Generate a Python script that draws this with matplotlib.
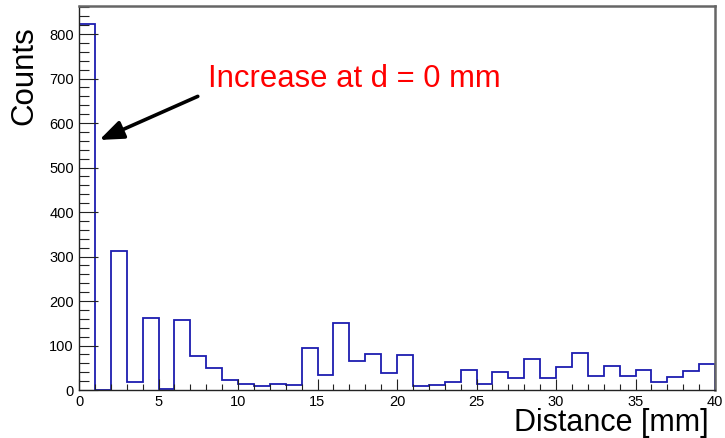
import numpy as np
import matplotlib
matplotlib.use("Agg")
import matplotlib.pyplot as plt
from matplotlib.ticker import MultipleLocator

plt.rcParams['font.family'] = ['Liberation Sans', 'DejaVu Sans']

# Histogram of distances, 1 mm bins from 0 to 40 mm
bin_edges = np.arange(0, 41, 1)
counts = [822, 0, 312, 17, 162, 2, 157, 76, 49, 22,
          14, 9, 13, 12, 94, 34, 151, 65, 80, 39,
          79, 10, 11, 19, 45, 13, 40, 28, 70, 27,
          51, 83, 32, 54, 31, 44, 18, 30, 42, 58]

x_label = "Distance [mm]"
y_label = "Counts"
note_text = "Increase at d = 0 mm"
note_xy = (8.09, 681)
arrow_tip = (1.28, 562)
arrow_tail = (7.47, 660)

fig = plt.figure(figsize=(7.25, 4.38), dpi=100)
ax = fig.add_axes([79 / 725, 1 - 390 / 438, 636 / 725, 384 / 438])

ax.stairs(counts, bin_edges, color='#1c1cb0', lw=1.3, baseline=0)

ax.set_xlim(0, 40)
ax.set_ylim(0, max(counts) * 1.05)

ax.xaxis.set_major_locator(MultipleLocator(5))
ax.xaxis.set_minor_locator(MultipleLocator(1))
ax.yaxis.set_major_locator(MultipleLocator(100))
ax.yaxis.set_minor_locator(MultipleLocator(20))

ax.tick_params(axis='x', which='major', direction='in', length=8, width=0.8,
               labelsize=10.5, pad=3.5, color='#222222')
ax.tick_params(axis='x', which='minor', direction='in', length=4, width=0.8,
               color='#222222')
ax.tick_params(axis='y', which='major', direction='in', length=14, width=0.8,
               labelsize=10.5, pad=3.6, color='#222222')
ax.tick_params(axis='y', which='minor', direction='in', length=7, width=0.8,
               color='#222222')

for side in ('left', 'bottom'):
    ax.spines[side].set_color('#222222')
    ax.spines[side].set_linewidth(1.0)
for side in ('top', 'right'):
    ax.spines[side].set_color('#666666')
    ax.spines[side].set_linewidth(1.8)

fig.text(709 / 725, 1 - 431 / 438, x_label, fontsize=22,
         ha='right', va='baseline')
fig.text(32 / 725, 1 - 125 / 438, y_label, fontsize=22.5, rotation=90,
         rotation_mode='anchor', ha='left', va='baseline')

ax.text(note_xy[0], note_xy[1], note_text, color='#ff0000', fontsize=22.3,
        ha='left', va='baseline')
ax.annotate('', xy=arrow_tip, xytext=arrow_tail,
            arrowprops=dict(arrowstyle='-|>,head_length=0.9,head_width=0.35',
                            lw=2.6, color='black', mutation_scale=16,
                            shrinkA=0, shrinkB=0))

fig.savefig('out.png', dpi=100)
